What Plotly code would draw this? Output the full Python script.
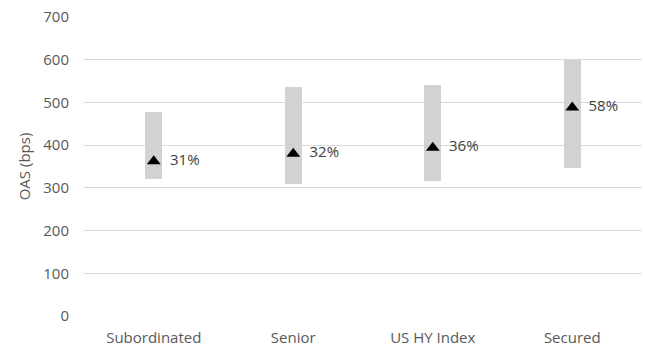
import plotly.graph_objects as go

categories = ["Subordinated", "Senior", "US HY Index", "Secured"]
range_low = [321, 310, 315, 346]
range_high = [477, 535, 541, 599]
current_oas = [362, 380, 394, 488]
labels = ["31%", "32%", "36%", "58%"]

FONT = "Open Sans"
TXT = "#595959"

fig = go.Figure()
fig.add_trace(go.Bar(
    x=categories,
    y=[h - l for h, l in zip(range_high, range_low)],
    base=range_low,
    marker=dict(color="#d2d2d2", line=dict(width=0)),
    width=0.12,
    showlegend=False,
    hoverinfo="skip",
))
fig.add_trace(go.Scatter(
    x=categories,
    y=current_oas,
    mode="markers+text",
    marker=dict(symbol="triangle-up", size=12, color="black",
                line=dict(width=0)),
    text=labels,
    texttemplate="  %{text}",
    textposition="middle right",
    textfont=dict(family=FONT, size=15, color="#404040"),
    showlegend=False,
))

fig.update_layout(
    width=645, height=347,
    margin=dict(l=84, r=3, t=17, b=31),
    paper_bgcolor="white", plot_bgcolor="white",
    font=dict(family=FONT, size=15, color=TXT),
    bargap=0,
)
fig.update_xaxes(
    showgrid=False, showline=False, zeroline=False,
    ticks="", ticklabelstandoff=11, automargin=False,
    tickfont=dict(family=FONT, size=15, color=TXT),
)
fig.update_yaxes(
    range=[0, 700], dtick=100, tick0=0, automargin=False,
    showgrid=True, gridcolor="#d9d9d9", gridwidth=1,
    zeroline=False, showline=False, ticks="",
    ticklabelstandoff=14,
    tickfont=dict(family=FONT, size=15, color=TXT),
    title=dict(text="OAS (bps)", font=dict(family=FONT, size=15, color=TXT), standoff=9),
)

fig.write_html("out.html")
